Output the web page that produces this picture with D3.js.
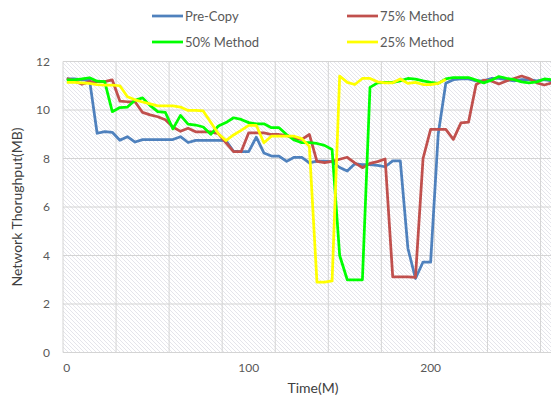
<!DOCTYPE html>
<meta charset="utf-8">
<script src="https://cdn.jsdelivr.net/npm/d3@7"></script>
<style>
body { margin: 0; background: #fff; }
text { font-family: Lato, "Open Sans", sans-serif; }
</style>
<body>
<script>

// throughput (MB) per sample, one sample per category
var preCopy = [11.28, 11.28, 11.24, 11.24, 9.04, 9.11, 9.08, 8.75, 8.9, 8.68,
               8.78, 8.78, 8.78, 8.78, 8.78, 8.9, 8.66, 8.75, 8.75, 8.75,
               8.75, 8.74, 8.3, 8.28, 8.28, 8.88, 8.23, 8.1, 8.1, 7.88,
               8.05, 8.05, 7.82, 7.89, 7.89, 7.87, 7.63, 7.48, 7.78, 7.75,
               7.75, 7.72, 7.66, 7.9, 7.9, 4.3, 3.05, 3.73, 3.73, 9.0,
               11.1, 11.25, 11.28, 11.28, 11.2, 11.2, 11.3, 11.3, 11.25, 11.2,
               11.25, 11.25, 11.2, 11.25, 11.2]
var method75 = [11.3, 11.2, 11.06, 11.17, 11.17, 11.17, 11.24, 10.37, 10.34, 10.34,
                9.9, 9.8, 9.72, 9.6, 9.3, 9.12, 9.25, 9.1, 9.1, 9.1,
                9.02, 8.65, 8.28, 8.28, 9.06, 9.06, 9.06, 8.99, 8.99, 8.95,
                8.83, 8.79, 8.99, 7.88, 7.83, 7.88, 7.97, 8.05, 7.82, 7.62,
                7.8, 7.87, 7.98, 3.12, 3.12, 3.12, 3.1, 8.0, 9.2, 9.2,
                9.2, 8.79, 9.47, 9.5, 11.05, 11.23, 11.2, 11.07, 11.2, 11.3,
                11.4, 11.3, 11.12, 11.03, 11.12]
var method50 = [11.24, 11.24, 11.28, 11.33, 11.19, 11.17, 9.93, 10.1, 10.12, 10.4,
                10.5, 10.18, 9.93, 9.9, 9.22, 9.78, 9.42, 9.38, 9.3, 9.0,
                9.34, 9.48, 9.68, 9.61, 9.48, 9.43, 9.43, 9.27, 9.27, 8.99,
                8.76, 8.65, 8.65, 8.62, 8.54, 8.37, 4.0, 3.0, 3.0, 3.0,
                10.93, 11.12, 11.14, 11.14, 11.2, 11.3, 11.27, 11.2, 11.14, 11.1,
                11.28, 11.34, 11.34, 11.34, 11.23, 11.12, 11.23, 11.38, 11.31, 11.25,
                11.16, 11.12, 11.16, 11.28, 11.25]
var method25 = [11.14, 11.14, 11.12, 11.1, 11.05, 11.03, 11.03, 11.0, 10.55, 10.42,
                10.33, 10.25, 10.17, 10.17, 10.17, 10.12, 9.98, 9.98, 9.96, 9.48,
                9.02, 8.74, 8.97, 9.16, 9.37, 9.37, 8.65, 8.92, 8.92, 8.92,
                8.92, 8.82, 8.5, 2.9, 2.9, 2.95, 11.4, 11.14, 11.05, 11.3,
                11.3, 11.16, 11.12, 11.12, 11.28, 11.1, 11.14, 11.05, 11.05, 11.1,
                11.26]

var seriesNames = ["Pre-Copy", "75% Method", "50% Method", "25% Method"]
var seriesColors = ["#4f81bd", "#c0504d", "#00ff00", "#ffff00"]
var yTicks = [0, 2, 4, 6, 8, 10, 12]
var xTickLabels = ["0", "100", "200"]
var xTickAt = [0, 24, 48]      // category index of each label
var gridEvery = 7              // categories between vertical gridlines

var width = 551
var height = 396
var nCats = 65

var x = d3.scaleBand().domain(d3.range(nCats)).range([63, 63 + nCats * 7.58])
var y = d3.scaleLinear().domain([0, 12]).range([352.5, 61.5])

var svg = d3.select("body").append("svg")
            .attr("width", width)
            .attr("height", height)

// hatched plot background
var pat = svg.append("defs").append("pattern")
             .attr("id", "hatch")
             .attr("patternUnits", "userSpaceOnUse")
             .attr("width", 4)
             .attr("height", 4)
pat.append("rect").attr("width", 4).attr("height", 4).attr("fill", "#fff")
pat.append("path")
   .attr("d", "M-1,-1 L5,5 M-1,3 L1,5 M3,-1 L5,1")
   .attr("stroke", "#d3d3de")
   .attr("stroke-width", 0.6)

var plotLeft = x.range()[0], plotRight = x.range()[1]

svg.append("rect")
   .attr("x", plotLeft)
   .attr("y", y(12))
   .attr("width", plotRight - plotLeft)
   .attr("height", y(0) - y(12))
   .attr("fill", "url(#hatch)")

// gridlines
svg.append("g").selectAll("line")
   .data(yTicks)
   .join("line")
   .attr("x1", plotLeft).attr("x2", plotRight)
   .attr("y1", d => y(d)).attr("y2", d => y(d))
   .attr("stroke", "#d4d4d4")
   .attr("stroke-width", 1)

svg.append("g").selectAll("line")
   .data(d3.range(0, nCats, gridEvery))
   .join("line")
   .attr("x1", d => x(d)).attr("x2", d => x(d))
   .attr("y1", y(0)).attr("y2", y(12))
   .attr("stroke", "#d4d4d4")
   .attr("stroke-width", 1)

// axis labels
svg.append("g").selectAll("text")
   .data(yTicks)
   .join("text")
   .attr("x", 50)
   .attr("y", d => y(d))
   .attr("dy", "0.35em")
   .attr("text-anchor", "end")
   .style("font-size", "12px")
   .style("fill", "#595959")
   .text(d => d)

svg.append("g").selectAll("text")
   .data(xTickAt)
   .join("text")
   .attr("x", d => x(d) + x.bandwidth() / 2)
   .attr("y", 368)
   .attr("dy", "0.35em")
   .attr("text-anchor", "middle")
   .style("font-size", "12px")
   .style("fill", "#595959")
   .text((d, i) => xTickLabels[i])

svg.append("text")
   .attr("x", 313)
   .attr("y", 388)
   .attr("dy", "0.35em")
   .attr("text-anchor", "middle")
   .style("font-size", "14px")
   .style("fill", "#404040")
   .text("Time(M)")

svg.append("text")
   .attr("transform", "translate(17," + 207 + ") rotate(-90)")
   .attr("dy", "0.35em")
   .attr("text-anchor", "middle")
   .style("font-size", "14px")
   .style("fill", "#404040")
   .text("Network Thorughput(MB)")

// series lines
var line = d3.line()
             .x((d, i) => x(i) + x.bandwidth() / 2)
             .y(d => y(d))

var allSeries = [preCopy, method75, method50, method25]

svg.append("g").selectAll("path")
   .data(allSeries)
   .join("path")
   .attr("d", line)
   .attr("fill", "none")
   .attr("stroke", (d, i) => seriesColors[i])
   .attr("stroke-width", 2.75)
   .attr("stroke-linejoin", "round")

// legend, two columns
var legX = [152, 347]
var legY = [16, 42]
var leg = svg.append("g").selectAll("g")
             .data(seriesNames)
             .join("g")
             .attr("transform", (d, i) => "translate(" + legX[i % 2] + "," + legY[Math.floor(i / 2)] + ")")
leg.append("line")
   .attr("x1", 0).attr("x2", 31)
   .attr("y1", 0).attr("y2", 0)
   .attr("stroke", (d, i) => seriesColors[i])
   .attr("stroke-width", 2.75)
leg.append("text")
   .attr("x", 33)
   .attr("dy", "0.35em")
   .style("font-size", "13px")
   .style("fill", "#595959")
   .text(d => d)

</script>
</body>
